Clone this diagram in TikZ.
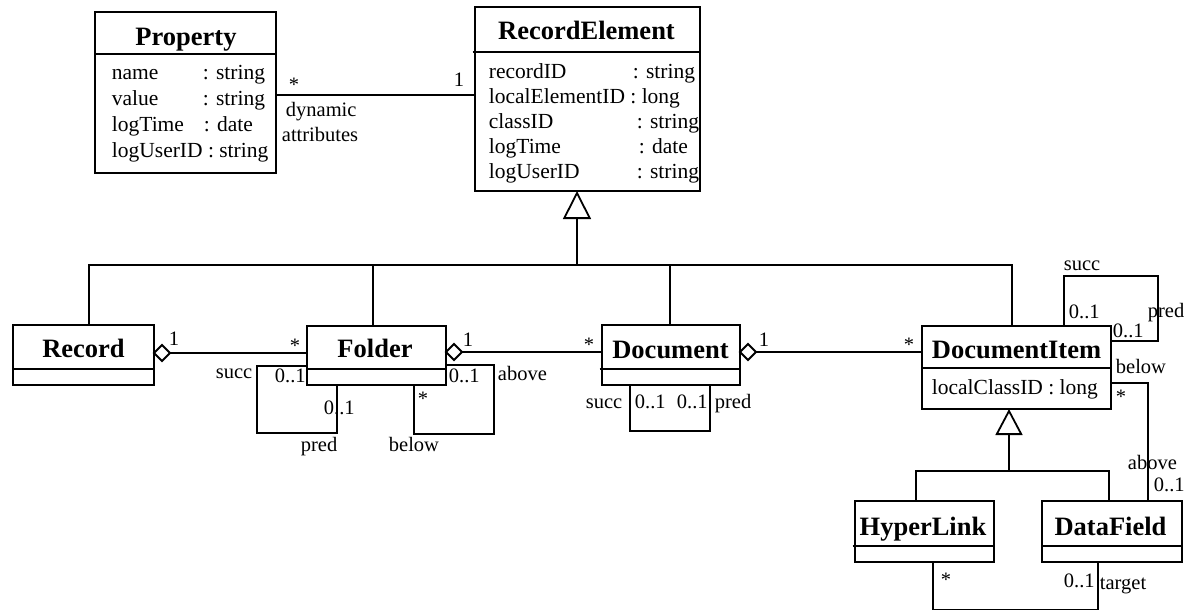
\documentclass[tikz,border=0pt]{standalone}
\usepackage{fontspec}
\setmainfont{Liberation Serif}
\usetikzlibrary{arrows.meta}

\tikzset{
  box/.style={draw, rectangle, inner sep=0pt, outer sep=0pt},
  title/.style={anchor=base, inner sep=0pt, font=\fontsize{26.5}{30}\selectfont\bfseries},
  attr/.style={anchor=base west, inner sep=0pt, font=\fontsize{21.5}{26}\selectfont},
  lbl/.style={anchor=base west, inner sep=0pt, font=\fontsize{20.5}{24}\selectfont},
  gen/.style={-{Triangle[open,length=28pt,width=28pt]}},
  gensmall/.style={-{Triangle[open,length=26pt,width=27pt]}},
  hollow/.style={fill=white, line join=miter},
}

% class box: name, left, top, right, bottom, divider y, divider overhang on the left
\newcommand\umlclassbox[7]{%
  \node[box, minimum width={(#4-#2)*1pt}, minimum height={(#5-#3)*1pt},
        anchor=north west] (#1) at (#2,#3) {};
  \draw ({#2-#7},#6) -- (#4,#6);
}

% aggregation: whole, part, height of the line
\newcommand\aggregation[3]{%
  \draw (#1.east |- 0,#3) ++(16,0) -- (#2.west |- 0,#3);
  \draw[hollow] (#1.east |- 0,#3) -- ++(8,-8) -- ++(8,8) -- ++(-8,8) -- cycle;
}

\begin{document}
\begin{tikzpicture}[x=1pt, y=-1pt, line width=1.8pt]
\useasboundingbox (0,0) rectangle (1189,611);

% ---- classes
\umlclassbox{prop}{95}{12}{276}{173}{54}{0}
\node[title] (prop-t) at (186,45) {Property};
\node[attr] (prop-a1) at (111,79) {name};
\node[attr] (prop-a1t) at (202,79) {: string};
\node[attr] (prop-a2) at (111,105) {value};
\node[attr] (prop-a2t) at (202,105) {: string};
\node[attr] (prop-a3) at (111,131) {logTime};
\node[attr] (prop-a3t) at (203,131) {: date};
\node[attr] (prop-a4) at (111,157) {logUserID : string};

\umlclassbox{re}{475}{7}{700}{191}{52}{2.5}
\node[title] (re-t) at (586.5,39) {RecordElement};
\node[attr] (re-a1) at (488,78) {recordID};
\node[attr] (re-a1t) at (632,78) {: string};
\node[attr] (re-a2) at (488,103) {localElementID : long};
\node[attr] (re-a3) at (488,128) {classID};
\node[attr] (re-a3t) at (636,128) {: string};
\node[attr] (re-a4) at (488,153) {logTime};
\node[attr] (re-a4t) at (638,153) {: date};
\node[attr] (re-a5) at (488,178) {logUserID};
\node[attr] (re-a5t) at (636,178) {: string};

\umlclassbox{rec}{13}{325}{154}{385}{369}{0}
\node[title] (rec-t) at (83.5,357) {Record};

\umlclassbox{fold}{307}{326}{446}{385}{369}{0}
\node[title] (fold-t) at (375,357) {Folder};

\umlclassbox{doc}{602}{325}{740}{385}{369}{2.5}
\node[title] (doc-t) at (670.5,358) {Document};

\umlclassbox{di}{922}{326}{1111}{409}{368}{0}
\node[title] (di-t) at (1016.5,358) {DocumentItem};
\node[attr] (di-a1) at (931,394) {localClassID : long};

\umlclassbox{hl}{855}{501}{994}{562}{546}{2.5}
\node[title] (hl-t) at (923,535) {HyperLink};

\umlclassbox{df}{1042}{501}{1182}{562}{546}{0}
\node[title] (df-t) at (1110.5,535) {DataField};

% ---- generalisation to RecordElement
\coordinate (g1) at (577,265);
\draw[gen] (g1) -- ([xshift=-10.5pt]re.south);
\draw ([xshift=5.5pt]rec.north) |- (g1) -| ([xshift=-4.5pt]di.north);
\draw ([xshift=-3.5pt]fold.north) |- (g1);
\draw ([xshift=-1pt]doc.north) |- (g1);

% ---- generalisation to DocumentItem
\coordinate (g2) at (1009,471);
\draw[gensmall] (g2) -- ([xshift=-7.5pt]di.south);
\draw ([xshift=-8.5pt]hl.north) |- (g2) -| ([xshift=-3pt]df.north);

% ---- dynamic attributes
\draw (prop.east |- 0,95) -- (re.west |- 0,95);
\node[lbl] (pr-m1) at (288,91) {*};
\node[lbl] (pr-m2) at (453,86) {1};
\node[lbl] (pr-r1) at (285,116) {dynamic};
\node[lbl] (pr-r2) at (281,141) {attributes};

% ---- aggregations
\aggregation{rec}{fold}{353}
\node[lbl] (rf-m1) at (168,345) {1};
\node[lbl] (rf-m2) at (289,352) {*};

\aggregation{fold}{doc}{352}
\node[lbl] (fd-m1) at (462,346) {1};
\node[lbl] (fd-m2) at (583,351) {*};

\aggregation{doc}{di}{352}
\node[lbl] (dd-m1) at (758,346) {1};
\node[lbl] (dd-m2) at (903,351) {*};

% ---- Folder succ/pred
\draw (fold.west |- 0,366) -| (257,433) -| (fold.south -| 337,0);
\node[lbl] (fsp-r1) at (215,378) {succ};
\node[lbl] (fsp-m1) at (274,382) {0..1};
\node[lbl] (fsp-m2) at (323,414) {0..1};
\node[lbl] (fsp-r2) at (300,451) {pred};

% ---- Folder above/below
\draw (fold.east |- 0,365) -| (494,434) -| (fold.south -| 414,0);
\node[lbl] (fab-m1) at (448,382) {0..1};
\node[lbl] (fab-r1) at (497,380) {above};
\node[lbl] (fab-m2) at (417,405) {*};
\node[lbl] (fab-r2) at (388,451) {below};

% ---- Document succ/pred
\draw (doc.south -| 630,0) |- (710,431) -- (doc.south -| 710,0);
\node[lbl] (dsp-r1) at (585,408) {succ};
\node[lbl] (dsp-m1) at (634,408) {0..1};
\node[lbl] (dsp-m2) at (676,408) {0..1};
\node[lbl] (dsp-r2) at (714,408) {pred};

% ---- DocumentItem succ/pred
\draw (di.north -| 1064,0) |- (1158,276) |- (di.east |- 0,341);
\node[lbl] (isp-r1) at (1063,270) {succ};
\node[lbl] (isp-m1) at (1068,318) {0..1};
\node[lbl] (isp-m2) at (1112,337) {0..1};
\node[lbl] (isp-r2) at (1147,317) {pred};

% ---- DocumentItem below / DataField above
\draw (di.east |- 0,383) -| (df.north -| 1148,0);
\node[lbl] (iab-r1) at (1115,373) {below};
\node[lbl] (iab-m1) at (1115,403) {*};
\node[lbl] (iab-r2) at (1127,469) {above};
\node[lbl] (iab-m2) at (1153,491) {0..1};

% ---- HyperLink target
\draw (hl.south -| 933,0) |- (1098,609.5) -- (df.south -| 1098,0);
\node[lbl] (ht-m1) at (940,586) {*};
\node[lbl] (ht-m2) at (1063,587) {0..1};
\node[lbl] (ht-r1) at (1099,589) {target};

\end{tikzpicture}
\end{document}
